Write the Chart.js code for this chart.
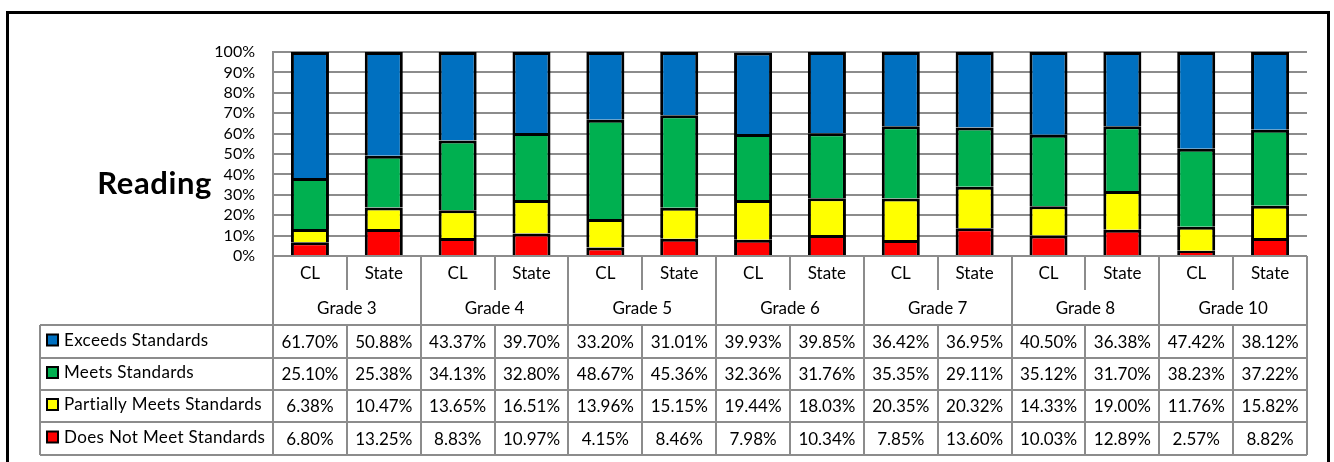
<!DOCTYPE html>
<html>
<head>
<meta charset="utf-8">
<script src="https://cdn.jsdelivr.net/npm/chart.js@4.4.1/dist/chart.umd.min.js"></script>
<style>
html,body{margin:0;padding:0;background:#fff;}
canvas{display:block;}
</style>
</head>
<body>
<canvas id="c" width="1334" height="462"></canvas>
<script>
const groups = ["Grade 3","Grade 4","Grade 5","Grade 6","Grade 7","Grade 8","Grade 10"];
const categories = ["CL","State","CL","State","CL","State","CL","State","CL","State","CL","State","CL","State"];
const exceeds   = [61.70,50.88,43.37,39.70,33.20,31.01,39.93,39.85,36.42,36.95,40.50,36.38,47.42,38.12];
const meets     = [25.10,25.38,34.13,32.80,48.67,45.36,32.36,31.76,35.35,29.11,35.12,31.70,38.23,37.22];
const partially = [6.38,10.47,13.65,16.51,13.96,15.15,19.44,18.03,20.35,20.32,14.33,19.00,11.76,15.82];
const doesNot   = [6.80,13.25,8.83,10.97,4.15,8.46,7.98,10.34,7.85,13.60,10.03,12.89,2.57,8.82];
const seriesNames = ["Exceeds Standards","Meets Standards","Partially Meets Standards","Does Not Meet Standards"];
const seriesColors = ["#0070C0","#00B050","#FFFF00","#FF0000"];
const yTicks = [0,10,20,30,40,50,60,70,80,90,100];
const title = "Reading";

const FONT = "Lato, 'Liberation Sans', sans-serif";
const GRID = "#8c8c8c";

function fmt(v){ return v.toFixed(2) + "%"; }

const tablePlugin = {
  id: "tablePlugin",
  beforeDraw(chart){
    const ctx = chart.ctx;
    ctx.save();
    ctx.fillStyle = "#fff";
    ctx.fillRect(0,0,chart.width,chart.height);
    ctx.restore();
  },
  afterDraw(chart){
    const ctx = chart.ctx;
    const x = chart.scales.x;
    const n = categories.length;
    const left = chart.chartArea.left, right = chart.chartArea.right;
    const w = (right - left) / n;
    const bound = i => x.getPixelForValue(i) - w/2;
    const bot = chart.chartArea.bottom;
    const rowSub = bot + 34, rowGrp = bot + 69;
    const rows = [rowGrp, rowGrp+33, rowGrp+65, rowGrp+97, rowGrp+130];
    const tLeft = 40;
    ctx.save();
    // outer frame
    ctx.strokeStyle = "#000"; ctx.lineWidth = 3;
    ctx.beginPath();
    ctx.moveTo(7.5, 470); ctx.lineTo(7.5, 12.5); ctx.lineTo(1328.5, 12.5); ctx.lineTo(1328.5, 470);
    ctx.stroke();
    // title
    ctx.fillStyle = "#000";
    ctx.font = "bold 31px " + FONT;
    ctx.letterSpacing = "0.6px";
    ctx.textAlign = "right"; ctx.textBaseline = "middle";
    ctx.fillText(title, 212, 184);
    ctx.letterSpacing = "0px";

    ctx.strokeStyle = GRID; ctx.lineWidth = 2;
    ctx.beginPath();
    ctx.moveTo(left, bot); ctx.lineTo(left, rows[4]);
    ctx.moveTo(right, bot); ctx.lineTo(right, rows[4]);
    ctx.moveTo(left, bot); ctx.lineTo(right, bot);
    for (let r = 0; r < rows.length; r++){ ctx.moveTo(tLeft, rows[r]); ctx.lineTo(right, rows[r]); }
    ctx.moveTo(tLeft, rows[0]); ctx.lineTo(tLeft, rows[4]);
    for (let i = 1; i < n; i++){
      const bx = Math.round(bound(i));
      if (i % 2 === 0){ ctx.moveTo(bx, bot); ctx.lineTo(bx, rows[4]); }
      else { ctx.moveTo(bx, bot); ctx.lineTo(bx, rowSub); ctx.moveTo(bx, rows[0]); ctx.lineTo(bx, rows[4]); }
    }
    ctx.stroke();

    ctx.fillStyle = "#000";
    ctx.font = "17px " + FONT;
    ctx.textAlign = "center"; ctx.textBaseline = "middle";
    for (let i = 0; i < n; i++){
      ctx.fillText(categories[i], x.getPixelForValue(i), bot + 18);
    }
    for (let g = 0; g < groups.length; g++){
      const cx = bound(2*g) + w;
      ctx.fillText(groups[g], cx, bot + 53);
    }
    const vals = [exceeds, meets, partially, doesNot];
    for (let r = 0; r < 4; r++){
      const cy = (rows[r] + rows[r+1]) / 2 + 1;
      ctx.textAlign = "center";
      ctx.letterSpacing = "0px";
      for (let i = 0; i < n; i++){
        ctx.fillText(fmt(vals[r][i]), x.getPixelForValue(i), cy);
      }
      ctx.fillStyle = seriesColors[r];
      ctx.fillRect(47, cy - 8, 11, 11);
      ctx.strokeStyle = "#000"; ctx.lineWidth = 2;
      ctx.strokeRect(47, cy - 8, 11, 11);
      ctx.fillStyle = "#000";
      ctx.textAlign = "left";
      ctx.letterSpacing = "0.35px";
      ctx.fillText(seriesNames[r], 64, cy - 2);
      ctx.letterSpacing = "0px";
    }
    ctx.restore();
  }
};

const mk = (label, data, color) => ({
  label, data, backgroundColor: color, borderColor: "#000", borderWidth: 3,
  barPercentage: 0.515, categoryPercentage: 1.0
});

new Chart(document.getElementById("c"), {
  type: "bar",
  data: {
    labels: categories,
    datasets: [
      mk(seriesNames[3], doesNot, seriesColors[3]),
      mk(seriesNames[2], partially, seriesColors[2]),
      mk(seriesNames[1], meets, seriesColors[1]),
      mk(seriesNames[0], exceeds, seriesColors[0])
    ]
  },
  options: {
    responsive: false,
    animation: false,
    devicePixelRatio: 1,
    layout: { padding: { top: 52, right: 27, bottom: 206, left: 0 } },
    plugins: { legend: { display: false }, tooltip: { enabled: false }, title: { display: false } },
    scales: {
      x: { stacked: true, display: false },
      y: {
        stacked: true, min: 0, max: 100,
        afterFit(s){ s.width = 273; },
        afterBuildTicks(s){ s.ticks = yTicks.map(v => ({ value: v })); },
        grid: { color: GRID, lineWidth: 2, drawTicks: false },
        border: { display: true, color: GRID, width: 2 },
        ticks: { autoSkip: false, padding: 18, color: "#000", font: { family: FONT, size: 16 }, callback: v => v + "%" }
      }
    }
  },
  plugins: [tablePlugin]
});
</script>
</body>
</html>
